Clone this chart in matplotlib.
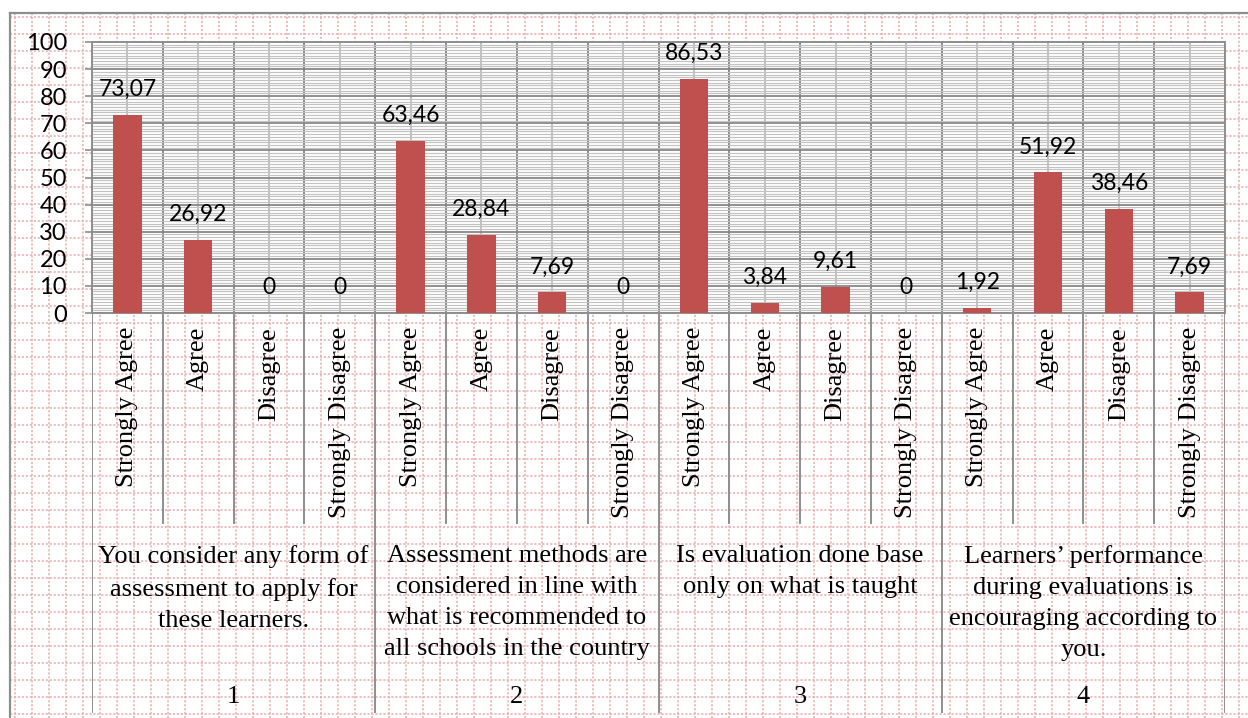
import numpy as np
import matplotlib
matplotlib.use("Agg")
import matplotlib.pyplot as plt

# data
answers = ["Strongly Agree", "Agree", "Disagree", "Strongly Disagree"]
group_ids = ["1", "2", "3", "4"]
group_text = [
    "You consider any form of\nassessment to apply for\nthese learners.",
    "Assessment methods are\nconsidered in line with\nwhat is recommended to\nall schools in the country",
    "Is evaluation done base\nonly on what is taught",
    "Learners\u2019 performance\nduring evaluations is\nencouraging according to\nyou.",
]
q1 = [73.07, 26.92, 0, 0]
q2 = [63.46, 28.84, 7.69, 0]
q3 = [86.53, 3.84, 9.61, 0]
q4 = [1.92, 51.92, 38.46, 7.69]

values = q1 + q2 + q3 + q4
labels = answers * 4

plt.rcParams['font.family'] = ['Lato', 'DejaVu Sans']
SERIF = ['Liberation Serif', 'DejaVu Serif']
BAR = '#C0504D'
PINK = '#e6adad'
FRAME = '#8e8e8e'

W, H = 1248, 718
fig = plt.figure(figsize=(W / 100, H / 100), dpi=100)

# page background: pink dotted grid inside a grey frame
bg = fig.add_axes([0, 0, 1, 1])
bg.set_xlim(0, W)
bg.set_ylim(H, 0)
bg.axis('off')
for gx in np.arange(15, W, 17):
    bg.plot([gx, gx], [13, H], color=PINK, lw=1.1, ls=(0, (1.4, 1.2)))
for gy in np.arange(17, H, 17):
    bg.plot([10, W], [gy, gy], color=PINK, lw=1.1, ls=(0, (1.4, 1.2)))
bg.plot([10, 10], [13, H], color=FRAME, lw=1.6)
bg.plot([10, W], [13, 13], color=FRAME, lw=1.6)

# main plot area
top, bottom = 42, 313
ax = fig.add_axes([92 / W, (H - bottom) / H, 1133 / W, (bottom - top) / H])
ax.set_facecolor('white')
x = np.arange(len(values))
ax.bar(x, values, width=0.4, color=BAR, zorder=3)
ax.set_xlim(-0.5, len(values) - 0.5)
ax.set_ylim(0, 100)

ax.set_yticks(range(0, 101, 10))
ax.set_yticks(range(0, 101, 1), minor=True)
ax.set_xticks(np.arange(-0.5, len(values), 1))
ax.set_xticks(x, minor=True)
ax.tick_params(axis='x', which='both', length=0, labelbottom=False)
ax.tick_params(axis='y', which='major', length=5, width=1.2, color=FRAME,
               pad=13, labelsize=17)
ax.tick_params(axis='y', which='minor', length=0)

ax.yaxis.grid(True, which='major', color='#878787', lw=1.3)
ax.yaxis.grid(True, which='minor', color='#c2c2c2', lw=0.85)
ax.xaxis.grid(True, which='major', color='#878787', lw=1.4)
ax.xaxis.grid(True, which='minor', color='#c0c0c0', lw=1.4)
ax.set_axisbelow(True)
for s in ax.spines.values():
    s.set_color(FRAME)
    s.set_linewidth(1.4)

for xi, v in zip(x, values):
    txt = "0" if v == 0 else f"{v:.2f}".replace('.', ',')
    ax.annotate(txt, (xi, v), xytext=(0, 13.5), textcoords='offset points',
                ha='center', va='baseline', fontsize=16.5, annotation_clip=False)

# category axis below (two levels)
lab = fig.add_axes([92 / W, 0, 1133 / W, (H - bottom) / H])
lab.set_xlim(-0.5, len(values) - 0.5)
lab.set_ylim(H - bottom, 0)
lab.axis('off')
for b in range(len(values) + 1):
    end = 399 if b % 4 == 0 else 210
    lab.plot([b - 0.5, b - 0.5], [0, end], color=FRAME, lw=1.4)

for xi, name in zip(x, labels):
    lab.text(xi, 14, name, rotation=90, ha='center', va='top',
             family=SERIF, fontsize=19)

for g, (gid, txt) in enumerate(zip(group_ids, group_text)):
    cx = 4 * g + 1.5
    lab.text(cx, 232, txt, ha='center', va='top', multialignment='center',
             family=SERIF, fontsize=19, linespacing=1.53)
    lab.text(cx, 384, gid, ha='center', va='center', family=SERIF, fontsize=19)

fig.savefig('out.png', dpi=100)
